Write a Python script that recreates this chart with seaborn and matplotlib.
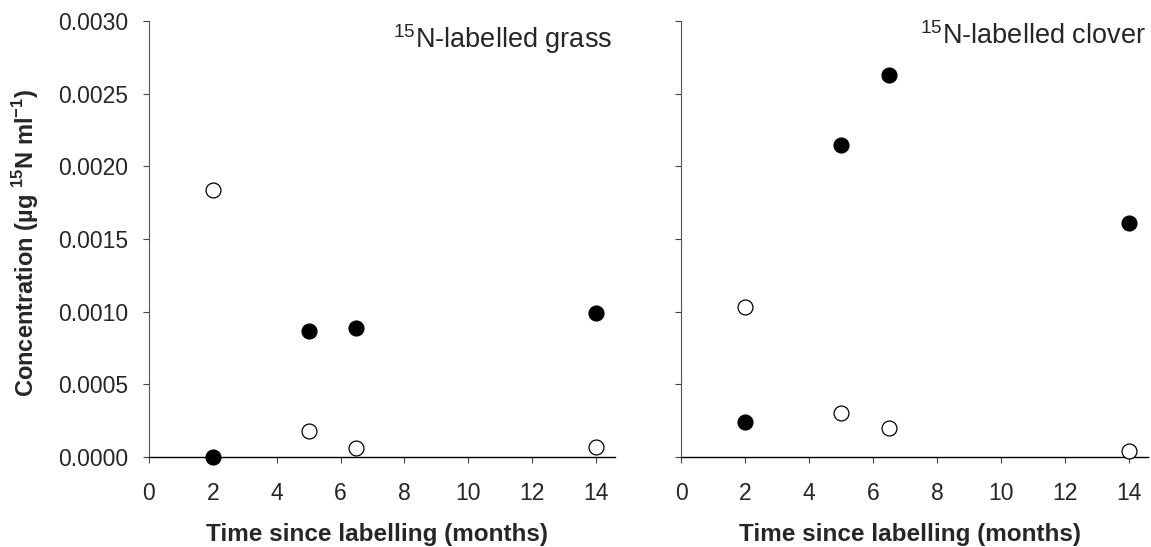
import pandas as pd
import seaborn as sns
import matplotlib
matplotlib.use('Agg')
import matplotlib.pyplot as plt

# months since labelling
months = [2, 5, 6.5, 14]

# grass panel
grass_filled = [0.0, 0.00087, 0.00089, 0.00099]
grass_open = [0.00184, 0.00018, 0.00006, 0.00007]

# clover panel
clover_filled = [0.00024, 0.00215, 0.00263, 0.00161]
clover_open = [0.00103, 0.00030, 0.00020, 0.00004]

x_ticks = [0, 2, 4, 6, 8, 10, 12, 14]
y_ticks = [0.0, 0.0005, 0.0010, 0.0015, 0.0020, 0.0025, 0.0030]

sns.set_style('ticks')
plt.rcParams['font.family'] = ['Liberation Sans', 'DejaVu Sans']
plt.rcParams['mathtext.fontset'] = 'custom'
plt.rcParams['mathtext.rm'] = 'Liberation Sans'
plt.rcParams['mathtext.bf'] = 'Liberation Sans:bold'


def draw_panel(ax, filled, opened, title, show_ylabels):
    df = pd.DataFrame({'month': months, 'filled': filled, 'open': opened})
    sns.scatterplot(data=df, x='month', y='open', ax=ax, s=115, color='white',
                    edgecolor='black', linewidth=0.9, clip_on=False, zorder=3)
    sns.scatterplot(data=df, x='month', y='filled', ax=ax, s=115, color='black',
                    edgecolor='black', linewidth=0.9, clip_on=False, zorder=4)
    ax.set_xlim(0, 14.6)
    ax.set_ylim(0, 0.003)
    ax.set_xticks(x_ticks)
    ax.set_yticks(y_ticks)
    if show_ylabels:
        ax.set_yticklabels([f'{v:.4f}' for v in y_ticks])
        ax.set_ylabel(r'Concentration (µg $^{\mathbf{15}}$N ml$^{\mathbf{-1}}$)',
                      fontsize=17, fontweight='bold')
        ax.yaxis.set_label_coords(-0.232, 0.49)
    else:
        ax.set_yticklabels([])
        ax.set_ylabel('')
    ax.set_xlabel('Time since labelling (months)', fontsize=17.5,
                  fontweight='bold')
    ax.xaxis.set_label_coords(0.49, -0.152)
    ax.tick_params(axis='both', labelsize=16.5, length=4.3, width=0.8,
                   direction='out', color='#444444')
    ax.tick_params(axis='x', pad=14)
    ax.tick_params(axis='y', pad=10.5)
    ax.spines['top'].set_visible(False)
    ax.spines['right'].set_visible(False)
    ax.spines['left'].set_color('#555555')
    ax.spines['left'].set_linewidth(0.8)
    ax.spines['bottom'].set_color('black')
    ax.spines['bottom'].set_linewidth(1.0)
    ax.text(0.995, 0.997, title, transform=ax.transAxes, ha='right', va='top',
            fontsize=19.5)


fig = plt.figure(figsize=(11.51, 5.47), dpi=100)
ax1 = fig.add_axes([149 / 1151, 90 / 547, 466 / 1151, 436 / 547])
ax2 = fig.add_axes([681 / 1151, 90 / 547, 467 / 1151, 436 / 547])

draw_panel(ax1, grass_filled, grass_open, r'$^{15}$N-labelled grass', True)
draw_panel(ax2, clover_filled, clover_open, r'$^{15}$N-labelled clover', False)

fig.savefig('out.png', dpi=100)
